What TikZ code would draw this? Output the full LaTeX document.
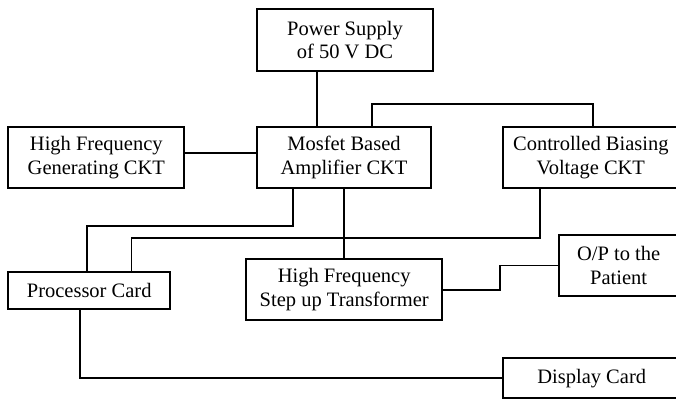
\documentclass[tikz,border=0pt]{standalone}
\usepackage{fontspec}
\setmainfont{Liberation Serif}
\begin{document}
\begin{tikzpicture}[x=1pt,y=-1pt,
  blk/.style={draw, line width=1.8pt, inner sep=0pt, outer sep=0pt, align=center,
    font=\fontsize{20.5}{23.5}\selectfont},
  wire/.style={line width=1.8pt}]
\useasboundingbox (0,0) rectangle (676,399);
\clip (0,0) rectangle (676,399);
\fill[white] (0,0) rectangle (676,399);
% boxes
\node[blk, minimum width=175.4pt, minimum height=61.4pt] (pow) at (345,40) {Power Supply\\of 50 V DC};
\node[blk, minimum width=174pt, minimum height=61.6pt] (mos) at (344,157.5) {Mosfet Based\\Amplifier CKT};
\node[blk, minimum width=176pt, minimum height=61pt] (hfg) at (96.3,157.8) {High Frequency\\Generating CKT};
\node[blk, minimum width=175pt, minimum height=61pt] (cbv) at (590.8,157.8) {Controlled Biasing\\Voltage CKT};
\node[blk, minimum width=161.7pt, minimum height=37.6pt] (proc) at (89.2,290.5) {Processor Card};
\node[blk, minimum width=196.3pt, minimum height=60.7pt] (hfs) at (344.2,289.7) {High Frequency\\Step up Transformer};
\node[blk, minimum width=118.7pt, minimum height=60.7pt] (op) at (618.6,265.4) {O/P to the\\Patient};
\node[blk, minimum width=176.7pt, minimum height=40pt] (disp) at (591.7,378.3) {Display Card};
% connectors
\coordinate (a1) at ([xshift=-28pt]pow.south);
\draw[wire] (a1) -- (a1 |- mos.north);
\coordinate (a2) at ([yshift=4.5pt]mos.west);
\draw[wire] (a2) -- (a2 -| hfg.east);
\draw[wire] ([xshift=27.6pt]mos.north) -- ++(0,-22.4) -| ([xshift=2.5pt]cbv.north);
\draw[wire] ([xshift=-51pt]mos.south) -- ++(0,37.4) -| ([xshift=-2.2pt]proc.north);
\draw[wire] ([xshift=-50.8pt]cbv.south) -- ++(0,50) -| ([xshift=42.3pt]proc.north);
\draw[wire] (mos.south) -- (mos.south |- hfs.north);
\draw[wire] (hfs.east) -- ++(57.7,0) |- (op.west);
\draw[wire] ([xshift=-9.5pt]proc.south) |- (disp.west);
\end{tikzpicture}
\end{document}
